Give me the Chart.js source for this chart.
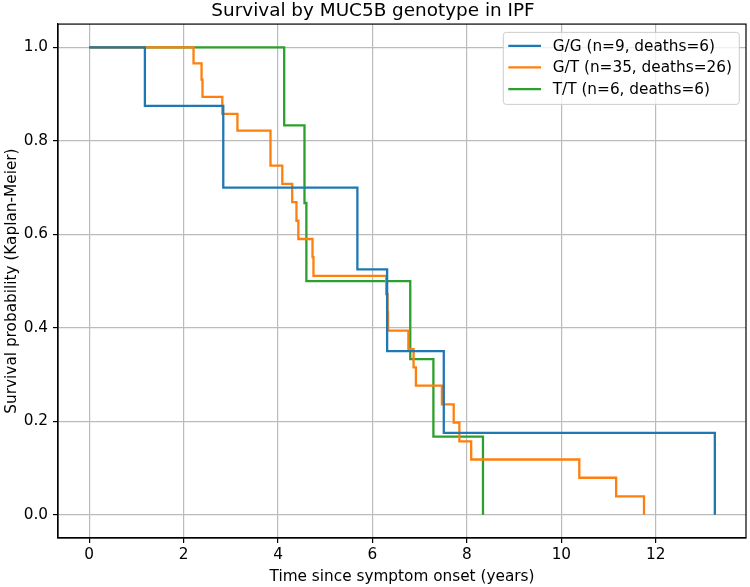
<!DOCTYPE html>
<html>
<head>
<meta charset="utf-8">
<script src="https://cdn.jsdelivr.net/npm/chart.js@4.4.1/dist/chart.umd.min.js"></script>
<style>
  html, body { margin: 0; padding: 0; background: #fff; }
  canvas { display: block; }
</style>
</head>
<body>
<canvas id="kmChart" width="750" height="587"></canvas>
<script>
// Kaplan-Meier steps (time in years, survival after the drop)
const ggTimes = [0, 1.18, 2.84, 5.68, 6.31, 7.51, 13.25];
const ggSurv = [1, 0.875, 0.70, 0.525, 0.35, 0.175, 0];

const gtTimes = [0, 2.21, 2.38, 2.40, 2.82, 3.14, 3.84, 4.09, 4.30, 4.39, 4.43, 4.73, 4.75,
                 6.29, 6.32, 6.33, 6.76, 6.87, 6.92, 7.47, 7.72, 7.84, 8.09, 10.38, 11.16, 11.75];
const gtSurv = [1, 0.966, 0.931, 0.894, 0.858, 0.822, 0.747, 0.708, 0.669, 0.629, 0.590, 0.551, 0.511,
                0.472, 0.433, 0.394, 0.354, 0.315, 0.276, 0.236, 0.197, 0.157, 0.118, 0.079, 0.039, 0];

const ttTimes = [0, 4.13, 4.56, 4.60, 6.80, 7.29, 8.34];
const ttSurv = [1, 0.833, 0.667, 0.5, 0.333, 0.167, 0];

const seriesLabels = ['G/G (n=9, deaths=6)', 'G/T (n=35, deaths=26)', 'T/T (n=6, deaths=6)'];
const seriesColors = ['#1f77b4', '#ff7f0e', '#2ca02c'];
const xTicks = [0, 2, 4, 6, 8, 10, 12];
const yTicks = [0, 0.2, 0.4, 0.6, 0.8, 1.0];

const FONT = 'DejaVu Sans';
const SMALL = 15.3;
Chart.defaults.font.family = FONT;
Chart.defaults.color = '#000';

function toPoints(times, surv) {
    return times.map((t, i) => ({ x: t, y: surv[i] }));
}

// full black frame round the plot, like matplotlib spines
const framePlugin = {
    id: 'frame',
    afterDraw(chart) {
        const { ctx, chartArea: a } = chart;
        ctx.save();
        ctx.strokeStyle = '#000';
        ctx.lineWidth = 1.2;
        ctx.strokeRect(a.left, a.top, a.right - a.left, a.bottom - a.top);
        ctx.restore();
    }
};

// legend box in the upper right corner of the plot
const insideLegend = {
    id: 'insideLegend',
    afterDraw(chart) {
        const { ctx, chartArea: a } = chart;
        const w = 236, h = 72;
        const left = a.right - 6.7 - w;
        const top = a.top + 8.3;
        ctx.save();
        ctx.beginPath();
        ctx.roundRect(left, top, w, h, 3);
        ctx.fillStyle = 'rgba(255,255,255,0.8)';
        ctx.fill();
        ctx.strokeStyle = '#cccccc';
        ctx.lineWidth = 1;
        ctx.stroke();
        ctx.font = SMALL + 'px "' + FONT + '"';
        ctx.textBaseline = 'middle';
        ctx.fillStyle = '#000';
        const rows = [13.4, 35, 56.7];
        seriesLabels.forEach((label, i) => {
            const y = top + rows[i];
            ctx.beginPath();
            ctx.moveTo(left + 5, y);
            ctx.lineTo(left + 37.7, y);
            ctx.strokeStyle = seriesColors[i];
            ctx.lineWidth = 2.3;
            ctx.stroke();
            ctx.fillText(label, left + 49.4, y + 1);
        });
        ctx.restore();
    }
};

const curves = [
    toPoints(ggTimes, ggSurv),
    toPoints(gtTimes, gtSurv),
    toPoints(ttTimes, ttSurv)
];

new Chart(document.getElementById('kmChart'), {
    type: 'line',
    data: {
        datasets: curves.map((pts, i) => ({
            label: seriesLabels[i],
            data: pts,
            borderColor: seriesColors[i],
            backgroundColor: seriesColors[i],
            borderWidth: 2.3,
            pointRadius: 0,
            stepped: true,
            fill: false
        }))
    },
    options: {
        responsive: false,
        animation: false,
        layout: { padding: { left: 0, right: 4, top: 0, bottom: 0 } },
        plugins: {
            legend: { display: false },
            tooltip: { enabled: false },
            title: {
                display: true,
                text: 'Survival by MUC5B genotype in IPF',
                color: '#000',
                font: { size: 18.4, weight: 'normal' },
                padding: { top: 0, bottom: 2 }
            }
        },
        scales: {
            x: {
                type: 'linear',
                min: -0.66,
                max: 13.91,
                afterBuildTicks: s => { s.ticks = xTicks.map(v => ({ value: v })); },
                afterFit: s => { s.height = 49; },
                ticks: {
                    font: { size: SMALL },
                    color: '#000',
                    padding: 3,
                    maxRotation: 0,
                    autoSkip: false,
                    callback: v => String(v)
                },
                grid: { color: '#bbbbbb', lineWidth: 1.2, tickColor: '#000', tickLength: 5 },
                border: { display: true, color: '#000', width: 1.2 },
                title: {
                    display: true,
                    text: 'Time since symptom onset (years)',
                    color: '#000',
                    font: { size: SMALL },
                    padding: { top: 0, bottom: 1 }
                }
            },
            y: {
                min: -0.05,
                max: 1.05,
                afterBuildTicks: s => { s.ticks = yTicks.map(v => ({ value: v })); },
                afterFit: s => { s.width = 58; },
                ticks: {
                    font: { size: SMALL },
                    color: '#000',
                    padding: 5,
                    callback: v => v.toFixed(1)
                },
                grid: { color: '#bbbbbb', lineWidth: 1.2, tickColor: '#000', tickLength: 5 },
                border: { display: true, color: '#000', width: 1.2 },
                title: {
                    display: true,
                    text: 'Survival probability (Kaplan-Meier)',
                    color: '#000',
                    font: { size: SMALL },
                    padding: { top: 3, bottom: 0 }
                }
            }
        }
    },
    plugins: [framePlugin, insideLegend]
});
</script>
</body>
</html>
